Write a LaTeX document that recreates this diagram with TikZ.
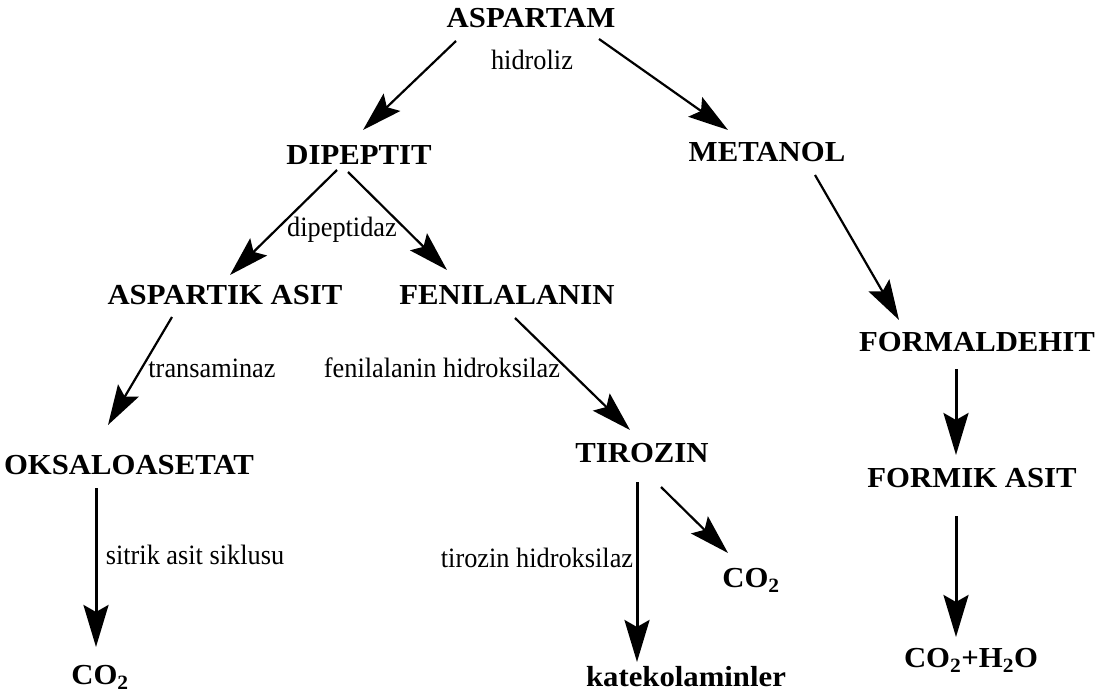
\documentclass[tikz,border=0pt]{standalone}
\usepackage{fontspec}
\setmainfont{Liberation Serif}
\newfontfamily\chemfont[FakeStretch=1.06]{Liberation Serif}
\newfontfamily\labfont[FakeStretch=0.94]{Liberation Serif}
\usetikzlibrary{arrows.meta,calc}
\begin{document}
\begin{tikzpicture}[x=1pt,y=-1pt,
  chem/.style={font=\chemfont\fontsize{29}{33}\selectfont\bfseries, inner sep=0pt},
  lab/.style={font=\labfont\fontsize{28}{32}\selectfont, inner sep=0pt},
  arr/.style={line width=2.2pt, -{Stealth[length=40pt,width=24pt,inset=7pt]}},
  varr/.style={line width=3pt, -{Stealth[length=42pt,width=25pt,inset=7pt]}}]
\useasboundingbox (0,0) rectangle (1114,698);
\fill[white] (0,0) rectangle (1114,698);
% nodes
\node[chem] (asp) at (531,18) {ASPARTAM};
\node[lab] (hid) at (532,60) {hidroliz};
\node[chem] (dip) at (359,155) {DIPEPTIT};
\node[chem] (met) at (767,152) {METANOL};
\node[lab] (dipz) at (342,230) {dipeptidaz};
\node[chem] (aspa) at (225,295) {ASPARTIK ASIT};
\node[chem] (fen) at (507,295) {FENILALANIN};
\node[chem] (form) at (977,342) {FORMALDEHIT};
\node[lab] (trans) at (212,368) {transaminaz};
\node[lab] (fenh) at (442,368) {fenilalanin hidroksilaz};
\node[chem] (oks) at (129,465) {OKSALOASETAT};
\node[chem] (tir) at (642,453) {TIROZIN};
\node[chem] (formik) at (972,478) {FORMIK ASIT};
\node[lab] (sit) at (195,555) {sitrik asit siklusu};
\node[lab] (tirh) at (537,558) {tirozin hidroksilaz};
\node[chem] (co2a) at (751,580) {CO\textsubscript{2}};
\node[chem] (co2b) at (100,677) {CO\textsubscript{2}};
\node[chem] (kat) at (686,677) {katekolaminler};
\node[chem] (co2h) at (971,660) {CO\textsubscript{2}+H\textsubscript{2}O};
% connectors
\draw[arr] ($(asp)+(-75,23)$) -- ($(dip)+(4,-25)$);
\draw[arr] ($(asp)+(68,21)$) -- ($(met)+(-39,-22)$);
\draw[arr] ($(dip)+(-22,15)$) -- ($(aspa)+(5,-20)$);
\draw[arr] ($(dip)+(-11,17)$) -- ($(fen)+(-60,-25)$);
\draw[arr] ($(met)+(48,23)$) -- ($(form)+(-78,-22)$);
\draw[varr] ($(form)+(-21,27)$) -- ($(formik)+(-16,-23)$);
\draw[varr] ($(formik)+(-16,38)$) -- ($(co2h)+(-15,-23)$);
\draw[arr] ($(aspa)+(-53,22)$) -- ($(oks)+(-21,-40)$);
\draw[arr] ($(fen)+(8,23)$) -- ($(tir)+(-12,-23)$);
\draw[varr] ($(oks)+(-33,23)$) -- ($(co2b)+(-4,-30)$);
\draw[varr] ($(tir)+(-5,29)$) -- ($(kat)+(-49,-15)$);
\draw[arr] ($(tir)+(19,34)$) -- ($(co2a)+(-23,-27)$);
\end{tikzpicture}
\end{document}
